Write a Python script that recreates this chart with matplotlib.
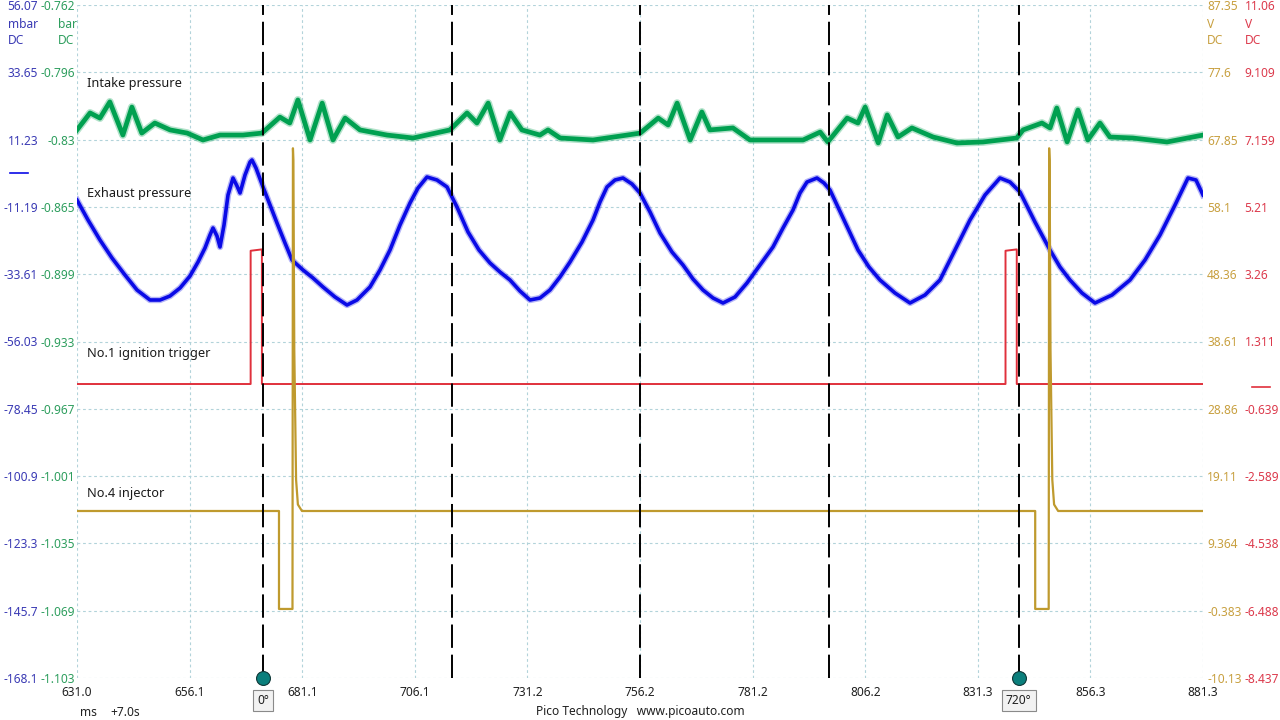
import numpy as np
import matplotlib.pyplot as plt

plt.rcParams['font.family'] = ['Noto Sans', 'DejaVu Sans']

# axis labels as shown by the scope (top to bottom / left to right)
x_labels = ['631.0', '656.1', '681.1', '706.1', '731.2', '756.2',
            '781.2', '806.2', '831.3', '856.3', '881.3']
mbar_labels = ['56.07', '33.65', '11.23', '-11.19', '-33.61', '-56.03',
               '-78.45', '-100.9', '-123.3', '-145.7', '-168.1']
bar_labels = ['-0.762', '-0.796', '-0.83', '-0.865', '-0.899', '-0.933',
              '-0.967', '-1.001', '-1.035', '-1.069', '-1.103']
inj_labels = ['87.35', '77.6', '67.85', '58.1', '48.36', '38.61',
              '28.86', '19.11', '9.364', '-0.383', '-10.13']
ign_labels = ['11.06', '9.109', '7.159', '5.21', '3.26', '1.311',
              '-0.639', '-2.589', '-4.538', '-6.488', '-8.437']

t_range = (631.0, 881.3)
mbar_range = (-168.1, 56.07)
bar_range = (-1.103, -0.762)
inj_range = (-10.13, 87.35)
ign_range = (-8.437, 11.06)

# exhaust pressure (mbar)
exh_t = [631.00, 633.45, 636.11, 638.78, 641.67, 644.34, 647.23, 649.45, 651.67, 653.90,
         656.12, 657.90, 659.45, 660.56, 661.23, 662.12, 662.79, 663.68, 664.57, 665.68,
         666.57, 667.24, 668.35, 669.46, 669.90, 670.79, 672.35, 673.91, 675.46, 677.24,
         678.80, 681.24, 683.46, 685.68, 688.35, 691.02, 693.24, 696.13, 698.35, 700.58,
         702.80, 705.02, 706.80, 708.80, 711.02, 713.25, 715.47, 717.92, 720.36, 722.81,
         725.03, 727.25, 729.47, 731.70, 733.92, 736.14, 738.37, 740.59, 743.26, 745.70,
         747.26, 748.81, 750.59, 752.37, 754.37, 756.15, 758.38, 760.60, 763.26, 765.71,
         767.93, 770.15, 772.38, 774.60, 777.27, 779.93, 782.82, 785.71, 787.94, 790.16,
         791.72, 793.27, 795.49, 797.05, 798.38, 801.50, 804.61, 807.05, 809.50, 812.83,
         816.17, 819.50, 822.83, 826.17, 829.50, 832.84, 836.17, 838.40, 840.62, 843.95,
         847.29, 849.51, 851.73, 854.40, 857.29, 861.07, 865.07, 868.41, 871.74, 875.08,
         877.96, 879.74, 881.30]
exh_mbar = [-8.88, -15.55, -22.21, -28.20, -33.87, -38.86, -42.19, -42.19, -40.86, -38.20,
            -34.20, -29.54, -24.87, -20.54, -18.21, -20.88, -24.54, -17.21, -7.22, -1.56,
            -4.22, -6.55, -0.56, 3.77, 4.44, 1.77, -4.55, -10.55, -16.55, -23.21,
            -28.87, -32.20, -34.87, -37.86, -41.19, -43.86, -42.19, -37.86, -32.20, -25.54,
            -17.21, -9.88, -4.89, -1.22, -2.22, -4.55, -11.22, -19.54, -25.54, -29.87,
            -32.87, -35.53, -39.20, -42.19, -41.53, -38.86, -34.53, -29.54, -22.87, -15.55,
            -9.55, -4.55, -2.22, -1.56, -3.55, -6.55, -12.88, -19.88, -26.21, -30.54,
            -35.20, -38.86, -41.53, -43.19, -41.19, -36.53, -30.54, -24.54, -18.21, -12.22,
            -6.55, -2.89, -1.56, -3.22, -5.55, -15.55, -25.54, -31.20, -35.53, -39.86,
            -43.19, -40.53, -35.53, -25.54, -15.55, -7.22, -1.56, -2.89, -6.22, -16.21,
            -25.54, -31.20, -35.53, -39.86, -43.19, -40.53, -35.53, -28.87, -20.54, -10.55,
            -1.56, -2.22, -7.22]

# intake pressure (bar)
int_t = [631.0, 633.9, 636.1, 638.3, 641.2, 643.2, 645.4, 648.3, 651.7, 655.5,
         659.0, 662.8, 667.9, 672.1, 676.1, 678.3, 680.1, 682.8, 685.5, 687.9,
         690.6, 693.9, 699.9, 705.7, 713.9, 717.7, 719.9, 722.4, 725.0, 727.3,
         729.9, 733.9, 735.7, 738.4, 745.7, 753.3, 756.2, 760.2, 762.4, 764.4,
         767.3, 769.9, 771.7, 776.8, 780.6, 786.6, 792.4, 796.2, 797.9, 802.2,
         804.6, 806.2, 809.1, 811.1, 813.5, 816.6, 821.3, 826.6, 832.4, 839.9,
         841.3, 845.5, 847.3, 848.8, 851.1, 853.5, 855.7, 858.4, 860.6, 865.7,
         873.3, 881.3]
int_bar = [-0.8253, -0.8167, -0.8193, -0.8111, -0.8279, -0.8137, -0.8269, -0.8218,
           -0.8253, -0.8269, -0.8304, -0.8279, -0.8279, -0.8269, -0.8188, -0.8218,
           -0.8101, -0.8304, -0.8117, -0.8304, -0.8193, -0.8253, -0.8279, -0.8294,
           -0.8253, -0.8167, -0.8218, -0.8117, -0.8304, -0.8167, -0.8253, -0.8279,
           -0.8253, -0.8294, -0.8304, -0.8279, -0.8269, -0.8193, -0.8228, -0.8117,
           -0.8304, -0.8162, -0.8253, -0.8243, -0.8304, -0.8304, -0.8304, -0.8264,
           -0.8314, -0.8193, -0.8218, -0.8137, -0.8319, -0.8177, -0.8289, -0.8243,
           -0.8289, -0.8319, -0.8314, -0.8294, -0.8253, -0.8218, -0.8243, -0.8142,
           -0.8314, -0.8152, -0.8304, -0.8218, -0.8289, -0.8294, -0.8314, -0.8279]

# No.1 ignition trigger (V)
ign_t = [631.0, 669.6, 669.6, 672.1, 672.1, 837.4, 837.4, 839.9, 839.9, 881.3]
ign_v = [0.08, 0.08, 3.94, 3.98, 0.08, 0.08, 3.94, 3.98, 0.08, 0.08]

# No.4 injector (V)
inj_t = [631.0, 675.9, 675.9, 678.9, 679.0, 679.1, 679.3, 679.7, 680.1, 681.0,
         844.0, 844.0, 847.0, 847.1, 847.2, 847.4, 847.8, 848.2, 849.1, 881.3]
inj_v = [14.06, 14.06, -0.13, -0.13, 66.6, 64.9, 37.4, 18.6, 15.0, 14.06,
         14.06, -0.13, -0.13, 66.6, 64.9, 37.4, 18.6, 15.0, 14.06, 14.06]

# crank rulers every 180 deg
crank_t = [672.4, 714.3, 756.2, 798.2, 840.3]
crank_tags = ['0°', '', '', '', '720°']

BLUE = '#0a0ae6'
GREEN = '#00a050'
RED = '#e0303c'
GOLD = '#bf9a2e'
BLUE_TXT = '#3a3ab4'
GREEN_TXT = '#2e9e5e'
GOLD_TXT = '#c8a040'
RED_TXT = '#dc3a4c'
FS = 8.6

fig = plt.figure(figsize=(12.8, 7.2), dpi=100)
L, R, T, B = 77 / 1280, 1203 / 1280, 1 - 5 / 720, 1 - 678 / 720
ax = fig.add_axes([L, B, R - L, T - B])
ax_g = ax.twinx()
ax_r = ax.twinx()
ax_y = ax.twinx()

for a in (ax, ax_g, ax_r, ax_y):
    for s in a.spines.values():
        s.set_visible(False)
    a.tick_params(length=0, labelsize=FS)

ax.set_xlim(*t_range)
ax.set_xticks(np.linspace(*t_range, 11), labels=x_labels, color='#202020')
ax.tick_params(axis='x', pad=6)

ax.set_ylim(*mbar_range)
ax.set_yticks(np.linspace(*mbar_range, 11), labels=mbar_labels[::-1])
ax.tick_params(axis='y', pad=28, labelcolor=BLUE_TXT)
ax.grid(True, color='#b2d3da', linestyle=(0, (2.5, 2.5)), lw=0.8)

ax_g.set_ylim(*bar_range)
ax_g.set_yticks(np.linspace(*bar_range, 11), labels=bar_labels[::-1])
ax_g.tick_params(axis='y', left=True, labelleft=True, right=False,
                 labelright=False, pad=1.5, labelcolor=GREEN_TXT)

ax_r.set_ylim(*ign_range)
ax_r.set_yticks(np.linspace(*ign_range, 11), labels=ign_labels[::-1])
for lab in ax_r.get_yticklabels():
    lab.set_horizontalalignment('left')
ax_r.tick_params(axis='y', pad=30, labelcolor=RED_TXT)

ax_y.set_ylim(*inj_range)
ax_y.set_yticks(np.linspace(*inj_range, 11), labels=inj_labels[::-1])
ax_y.tick_params(axis='y', pad=3, labelcolor=GOLD_TXT)

# traces (a soft wide pass under each noisy trace gives the fuzzy band)
ax.plot(exh_t, exh_mbar, color=BLUE, lw=4.6, alpha=0.3, solid_joinstyle='round')
ax.plot(exh_t, exh_mbar, color=BLUE, lw=2.6, solid_joinstyle='round')
ax_g.plot(int_t, int_bar, color=GREEN, lw=5.6, alpha=0.3, solid_joinstyle='round')
ax_g.plot(int_t, int_bar, color=GREEN, lw=3.4, solid_joinstyle='round')
ax_r.plot(ign_t, ign_v, color=RED, lw=1.4)
ax_y.plot(inj_t, inj_v, color=GOLD, lw=1.6)

# zero markers
ax.plot([-0.0595, -0.0435], [0, 0], color=BLUE, lw=1.2,
        transform=ax.get_yaxis_transform(), clip_on=False)
ax_r.plot([1.0435, 1.0595], [0, 0], color=RED, lw=1.2,
          transform=ax_r.get_yaxis_transform(), clip_on=False)

# crank rulers
for t, tag in zip(crank_t, crank_tags):
    ax_y.axvline(t, color='black', lw=1.4, dashes=(12, 3.5), zorder=5)
    if tag:
        ax_y.plot(t, inj_range[0], 'o', ms=10, color='#0b7f7c', mec='#103838',
                  mew=0.8, clip_on=False, zorder=6)
        ax_y.annotate(tag, xy=(t, inj_range[0]), xytext=(0, -16),
                      textcoords='offset points', ha='center', va='center',
                      fontsize=FS, color='#202020', annotation_clip=False,
                      bbox=dict(boxstyle='square,pad=0.35', fc='#f2f2f2',
                                ec='#8a8a8a', lw=0.8))

# channel names
names = [('Intake pressure', 84), ('Exhaust pressure', 193),
         ('No.1 ignition trigger', 354), ('No.4 injector', 493)]
for txt, py in names:
    fig.text(87 / 1280, 1 - py / 720, txt, fontsize=9.2, color='#1a1a1a',
             va='center', ha='left')

# unit headers
fig.text(8 / 1280, 1 - 24 / 720, 'mbar', color=BLUE_TXT, fontsize=FS, va='center')
fig.text(8 / 1280, 1 - 41 / 720, 'DC', color=BLUE_TXT, fontsize=FS, va='center')
fig.text(58 / 1280, 1 - 24 / 720, 'bar', color=GREEN_TXT, fontsize=FS, va='center')
fig.text(58 / 1280, 1 - 41 / 720, 'DC', color=GREEN_TXT, fontsize=FS, va='center')
fig.text(1207 / 1280, 1 - 24 / 720, 'V', color=GOLD_TXT, fontsize=FS, va='center')
fig.text(1207 / 1280, 1 - 41 / 720, 'DC', color=GOLD_TXT, fontsize=FS, va='center')
fig.text(1245 / 1280, 1 - 24 / 720, 'V', color=RED_TXT, fontsize=FS, va='center')
fig.text(1245 / 1280, 1 - 41 / 720, 'DC', color=RED_TXT, fontsize=FS, va='center')

fig.text(80 / 1280, 1 - 712 / 720, 'ms', fontsize=FS, color='#202020', va='center')
fig.text(110 / 1280, 1 - 712 / 720, '+7.0s', fontsize=FS, color='#202020', va='center')
fig.text(0.5, 1 - 712 / 720, 'Pico Technology   www.picoauto.com', fontsize=FS,
         color='#202020', ha='center', va='center')

fig.savefig('out.png', dpi=100)
